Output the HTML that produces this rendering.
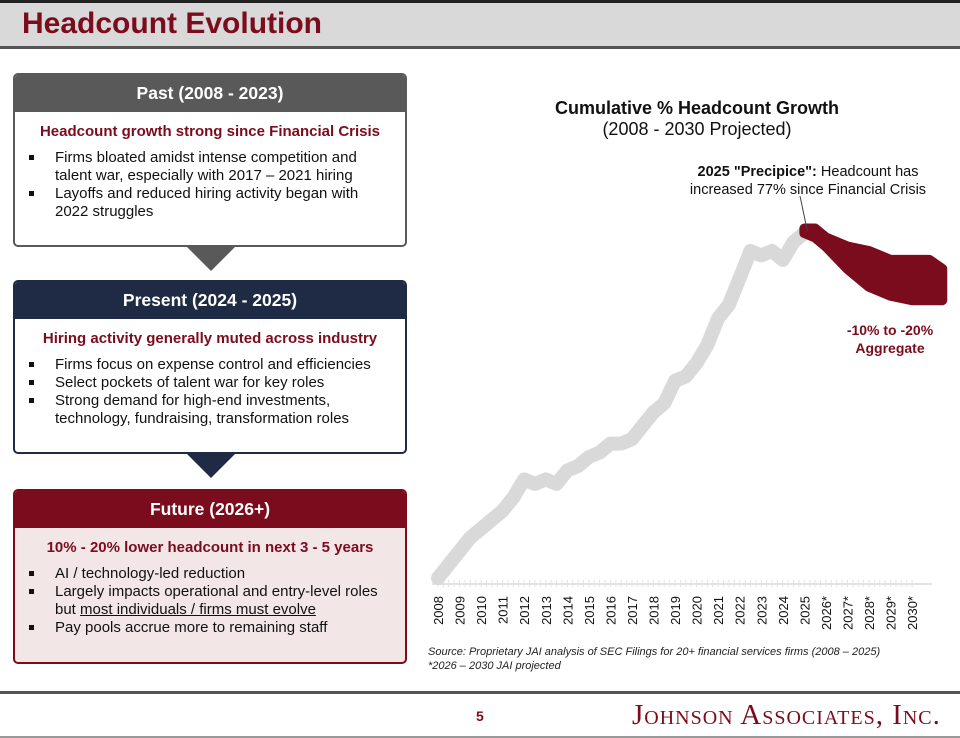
<!DOCTYPE html>
<html><head><meta charset="utf-8"><style>
body{margin:0;width:960px;height:738px;position:relative;background:#fff;font-family:"Liberation Sans",Arial,sans-serif;overflow:hidden}
.abs{position:absolute}
.box{position:absolute;left:13px;width:394px;border:2px solid;border-radius:5px;box-sizing:border-box;overflow:hidden}
.hd{height:37px;color:#fff;font-weight:bold;font-size:17.5px;text-align:center;line-height:37px}
.sub{font-weight:bold;font-size:15px;color:#7b0c1d;text-align:center;margin-top:11px}
ul{margin:9px 0 0 0;padding:0 22px 0 40px;font-size:15px;line-height:18px;color:#111;list-style:none}
li{position:relative}
li:before{content:"";position:absolute;left:-26px;top:6px;width:5px;height:5px;background:#111}
.tri{position:absolute;width:0;height:0;border-left:24px solid transparent;border-right:24px solid transparent;border-top:24px solid}
</style></head><body>
<div class="abs" style="left:0;top:0;width:960px;height:3px;background:#222"></div>
<div class="abs" style="left:0;top:3px;width:960px;height:43px;background:#d9d9d9;border-bottom:3px solid #555"></div>
<div class="abs" style="left:22px;top:7px;font-size:30px;font-weight:bold;color:#7b0c1d">Headcount Evolution</div>

<div class="box" style="top:73px;height:174px;border-color:#595959">
<div class="hd" style="background:#595959">Past (2008 - 2023)</div>
<div class="sub">Headcount growth strong since Financial Crisis</div>
<ul><li>Firms bloated amidst intense competition and talent war, especially with 2017 – 2021 hiring</li><li>Layoffs and reduced hiring activity began with 2022 struggles</li></ul>
</div>
<div class="tri" style="left:187px;top:247px;border-top-color:#595959"></div>

<div class="box" style="top:280px;height:174px;border-color:#1f2a44">
<div class="hd" style="background:#1f2a44">Present (2024 - 2025)</div>
<div class="sub">Hiring activity generally muted across industry</div>
<ul><li>Firms focus on expense control and efficiencies</li><li>Select pockets of talent war for key roles</li><li>Strong demand for high-end investments, technology, fundraising, transformation roles</li></ul>
</div>
<div class="tri" style="left:187px;top:454px;border-top-color:#1f2a44"></div>

<div class="box" style="top:489px;height:175px;border-color:#7b0c1d;background:#f3e6e7">
<div class="hd" style="background:#7b0c1d">Future (2026+)</div>
<div class="sub">10% - 20% lower headcount in next 3 - 5 years</div>
<ul><li>AI / technology-led reduction</li><li>Largely impacts operational and entry-level roles but <u>most individuals / firms must evolve</u></li><li>Pay pools accrue more to remaining staff</li></ul>
</div>

<div class="abs" style="left:522px;top:98px;width:350px;text-align:center;font-size:18px;line-height:21px;color:#111"><b>Cumulative % Headcount Growth</b><br>(2008 - 2030 Projected)</div>
<div class="abs" style="left:673px;top:163px;width:270px;text-align:center;font-size:14.5px;line-height:18px;color:#111"><b>2025 "Precipice":</b> Headcount has increased 77% since Financial Crisis</div>
<div class="abs" style="left:830px;top:321px;width:120px;text-align:center;font-size:14px;line-height:18px;font-weight:bold;color:#7b0c1d">-10% to -20%<br>Aggregate</div>

<svg class="abs" id="chart" style="left:0;top:0" width="960" height="738"></svg>

<div class="abs" style="left:428px;top:645px;font-size:11px;line-height:14px;font-style:italic;color:#222">Source: Proprietary JAI analysis of SEC Filings for 20+ financial services firms (2008 – 2025)<br>*2026 – 2030 JAI projected</div>
<div class="abs" style="left:0;top:691px;width:960px;height:3px;background:#555"></div>
<div class="abs" style="left:476px;top:708px;font-size:14px;font-weight:bold;color:#7b0c1d">5</div>
<div class="abs" style="left:632px;top:699px;font-family:'Liberation Serif',serif;font-size:29px;color:#7b0c1d;font-variant:small-caps;letter-spacing:1px">Johnson Associates, Inc.</div>
<div class="abs" style="left:0;top:736px;width:960px;height:2px;background:#999"></div>

<script>
const years=["2008","2009","2010","2011","2012","2013","2014","2015","2016","2017","2018","2019","2020","2021","2022","2023","2024","2025","2026*","2027*","2028*","2029*","2030*"];
const histT=[0,0.5,1,1.5,2,2.5,3,3.5,4,4.5,5,5.5,6,6.5,7,7.5,8,8.5,9,9.5,10,10.5,11,11.5,12,12.5,13,13.5,14,14.5,15,15.5,16,16.5,17];
const histV=[0,3,6,9,11,13,15,18,22,21,22,21,24,25,27,28,30,30,31,34,37,39,44,45,48,52,58,61,67,73,72,73,71,75,77];
const projT=[17,17.5,18,19,20,21,22,22.8,23.4];
const projHigh=[78,78,76,74,73,71,71,71,69];
const projLow=[77,76,74,69,65,63,62,62,62];
const X=t=>438+t*21.55, Y=v=>578-v*4.48;
const svg=document.getElementById('chart'),NS='http://www.w3.org/2000/svg';
function mk(tag,attrs){const e=document.createElementNS(NS,tag);for(const k in attrs)e.setAttribute(k,attrs[k]);svg.appendChild(e);return e;}
const ax=mk('line',{x1:432,x2:932,y1:584,y2:584,stroke:'#e3e3e3','stroke-width':2});


for(let i=0;i<=22*4;i++){const tk=mk('line',{x1:X(i/4),x2:X(i/4),y1:580,y2:587,stroke:'#e3e3e3','stroke-width':1});

}
years.forEach((y,i)=>{const t=mk('text',{x:0,y:0,transform:`translate(${X(i)+5},596) rotate(-90)`,'text-anchor':'end','font-size':13,fill:'#111','font-family':'Liberation Sans, sans-serif'});t.textContent=y;

});
const pd=histT.map((t,i)=>(i?'L':'M')+X(t)+','+Y(histV[i])).join(' ');
const hl=mk('path',{d:pd,fill:'none',stroke:'#d9d9d9','stroke-width':14,'stroke-linejoin':'round','stroke-linecap':'round'});


let bd=projT.map((t,i)=>(i?'L':'M')+X(t)+','+Y(projHigh[i])).join(' ');
for(let i=projT.length-1;i>=0;i--)bd+=' L'+X(projT[i])+','+Y(projLow[i]);bd+=' Z';
const band=mk('path',{d:bd,fill:'#7b0c1d',stroke:'#7b0c1d','stroke-width':10,'stroke-linejoin':'round'});


const ld=mk('line',{x1:800,y1:196,x2:X(17)+3,y2:Y(77)-2,stroke:'#444','stroke-width':1});


</script>
</body></html>
